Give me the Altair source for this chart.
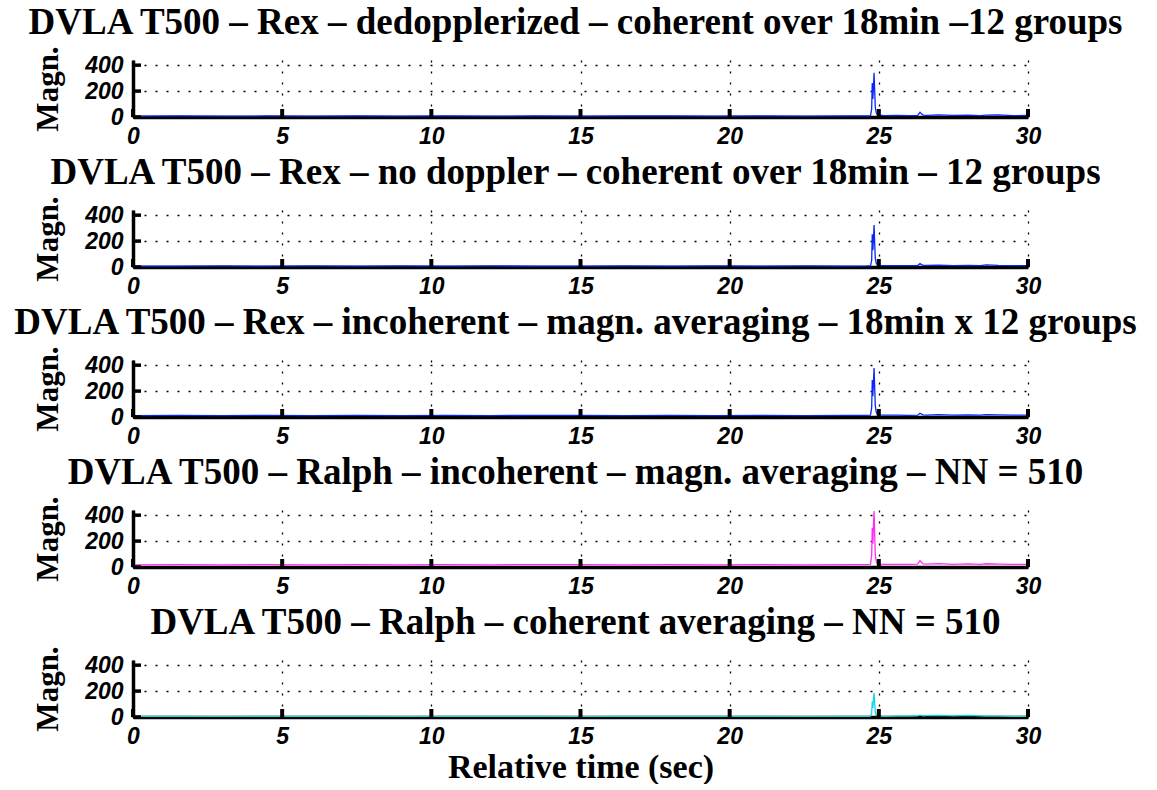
import altair as alt
import pandas as pd

# Shared time axis (seconds) of the magnitude traces
time_s = [0.0, 1.5, 3.0, 4.5, 6.0, 7.5, 9.0, 10.5, 12.0, 13.5,
          15.0, 16.5, 18.0, 19.5, 21.0, 22.5, 24.0, 24.6, 24.72, 24.76,
          24.78, 24.80, 24.82, 24.84, 24.86, 24.88, 24.91, 24.95, 25.0, 25.2,
          25.6, 26.0, 26.3, 26.38, 26.42, 26.48, 26.6, 27.0, 27.5, 28.0,
          28.4, 28.6, 29.0, 29.5, 30.0]

rex_dedoppler = [7, 8, 6, 8, 7, 9, 7, 8, 6, 8, 7, 8, 9, 7, 8, 7, 9, 8,
                 10, 60, 262, 140, 230, 342, 210, 80, 35, 18, 14, 11,
                 12, 10, 12, 36, 26, 15, 13, 17, 12, 15, 11, 14, 16, 11, 12]
rex_nodoppler = [7, 6, 8, 7, 8, 6, 8, 7, 8, 7, 6, 8, 7, 8, 7, 8, 7, 8,
                 9, 50, 253, 130, 220, 324, 190, 70, 30, 16, 12, 10,
                 11, 10, 11, 26, 20, 13, 12, 15, 11, 13, 10, 16, 12, 10, 11]
rex_incoherent = [11, 12, 10, 13, 11, 12, 10, 12, 11, 13, 12, 11, 12, 10, 12, 11, 13, 12,
                  14, 70, 285, 160, 260, 378, 240, 90, 40, 20, 16, 14,
                  15, 13, 14, 29, 24, 17, 15, 19, 14, 17, 14, 18, 16, 14, 15]
ralph_incoherent = [17, 18, 16, 19, 17, 18, 16, 18, 17, 19, 18, 17, 18, 16, 18, 17, 19, 18,
                    20, 90, 300, 180, 330, 432, 260, 100, 45, 26, 22, 20,
                    21, 20, 22, 50, 38, 24, 22, 26, 21, 24, 20, 25, 22, 20, 21]
ralph_coherent = [4, 5, 3, 5, 4, 5, 3, 4, 5, 4, 3, 5, 4, 5, 4, 3, 5, 4,
                  6, 30, 120, 70, 140, 185, 110, 40, 15, 8, 6, 5,
                  6, 7, 9, 14, 12, 8, 10, 13, 9, 12, 8, 7, 6, 5, 5]

panel_titles = [
    "DVLA T500 – Rex – dedopplerized – coherent over 18min –12 groups",
    "DVLA T500 – Rex – no doppler – coherent over 18min – 12 groups",
    "DVLA T500 – Rex – incoherent – magn. averaging – 18min x 12 groups",
    "DVLA T500 – Ralph – incoherent – magn. averaging – NN = 510",
    "DVLA T500 – Ralph – coherent averaging – NN = 510",
]
panel_series = [rex_dedoppler, rex_nodoppler, rex_incoherent,
                ralph_incoherent, ralph_coherent]
panel_colors = ["#0a28f5", "#0a28f5", "#0a28f5", "#ff2ef0", "#10d8e6"]

x_ticks = [0, 5, 10, 15, 20, 25, 30]
y_ticks = [0, 200, 400]

W = 895
H = 57
SERIF = "Liberation Serif"
SANS = "Liberation Sans"


def panel(title, values, color, last):
    df = pd.DataFrame({"t": time_s, "m": values})
    x_enc = alt.X(
        "t:Q",
        scale=alt.Scale(domain=[0, 30], nice=False, zero=False),
        axis=alt.Axis(values=x_ticks, format="d", labelFlush=False,
                      title="Relative time (sec)" if last else None),
    )
    y_axis = alt.Axis(values=y_ticks, format="d", title="Magn.")
    y_scale = alt.Scale(domain=[0, 440], nice=False)

    trace = alt.Chart(df).mark_line(color=color, strokeWidth=1.3, clip=True).encode(
        x=x_enc, y=alt.Y("m:Q", scale=y_scale, axis=y_axis)
    )
    # inward tick marks on the bottom axis
    xt = alt.Chart(pd.DataFrame({"t": x_ticks})).mark_rule(
        color="black", strokeWidth=4
    ).encode(x=x_enc, y=alt.value(H), y2=alt.value(H - 8))
    # inward tick marks on the left axis
    yt = alt.Chart(pd.DataFrame({"m": y_ticks})).mark_rule(
        color="black", strokeWidth=3.5
    ).encode(y=alt.Y("m:Q", scale=y_scale, axis=y_axis),
             x=alt.value(0), x2=alt.value(8))
    return alt.layer(trace, xt, yt).properties(
        width=W, height=H,
        title=alt.TitleParams(title, anchor="middle", frame="group"),
    )


panels = [panel(t, v, c, i == len(panel_titles) - 1)
          for i, (t, v, c) in enumerate(zip(panel_titles, panel_series, panel_colors))]

chart = alt.vconcat(*panels, spacing=5).properties(
    padding={"left": 12, "top": 3, "right": 5, "bottom": 0},
    background="white",
).configure_view(stroke=None).configure_axis(
    domainColor="black", domainWidth=3.5, ticks=False,
    grid=True, gridColor="black", gridDash=[2, 9], gridWidth=1.3, gridOpacity=1,
    labelFont=SANS, labelFontStyle="italic", labelFontWeight="bold",
    labelFontSize=23, labelColor="black",
    titleFont=SERIF, titleFontWeight="bold", titleFontSize=31, titleColor="black",
).configure_axisY(labelPadding=10, titlePadding=20).configure_axisX(
    labelPadding=8, titlePadding=2, titleFontSize=34
).configure_title(
    font=SERIF, fontSize=37, fontWeight="bold", color="black", offset=4, dx=-5
)

chart.save("out.html", embed_options={"renderer": "svg", "actions": False})
